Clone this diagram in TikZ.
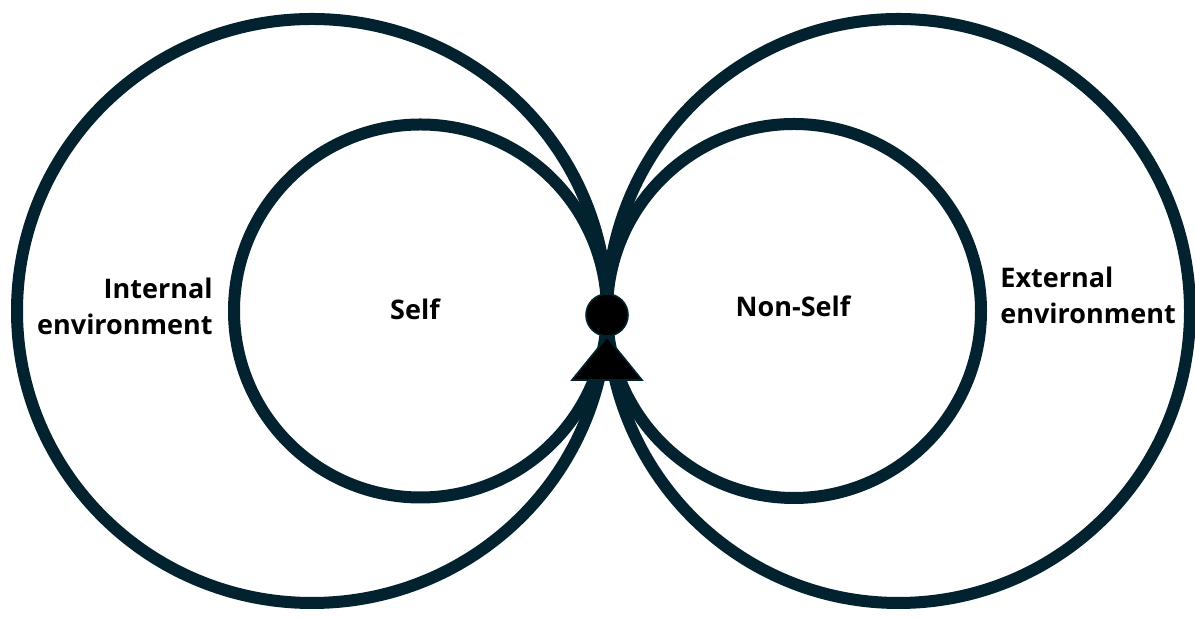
\documentclass[tikz,border=0pt]{standalone}
\usepackage{fontspec}
\setmainfont{Open Sans}
\definecolor{ring}{RGB}{2,34,48}
\begin{document}
\begin{tikzpicture}[x=0.5pt,y=0.5pt,
  ringline/.style={draw=ring,line width=6pt},
  lbl/.style={font=\fontsize{13.5}{18}\selectfont\bfseries,text=black,inner sep=0pt},
  lblblock/.style={lbl,align=#1},
]
\useasboundingbox (0,0) rectangle (1195,619);
% outer and inner loops
\draw[ringline] (312,308) ellipse [x radius=295,y radius=292];
\draw[ringline] (420.5,308) circle [radius=186.5];
\draw[ringline] (898.5,308) ellipse [x radius=291.5,y radius=292];
\draw[ringline] (794,308) circle [radius=187];
% centre markers
\node[circle,fill=black,draw=ring,line width=0.8pt,minimum size=42pt*0.5,inner sep=0pt] (dot) at (607,304) {};
\coordinate (apex) at (607,282);
\coordinate (bl) at (572,239);
\coordinate (br) at (642,239);
\draw[fill=black,draw=ring,line width=0.8pt,line join=miter] (apex) -- (bl) -- (br) -- cycle;
% labels
\node[lblblock=right,anchor=east] (internal) at (213,313) {Internal\\environment};
\node[lbl] (self) at (415,310) {Self};
\node[lbl] (nonself) at (793,313) {Non-Self};
\node[lblblock=left,anchor=west] (external) at (1000,324) {External\\environment};
\end{tikzpicture}
\end{document}
